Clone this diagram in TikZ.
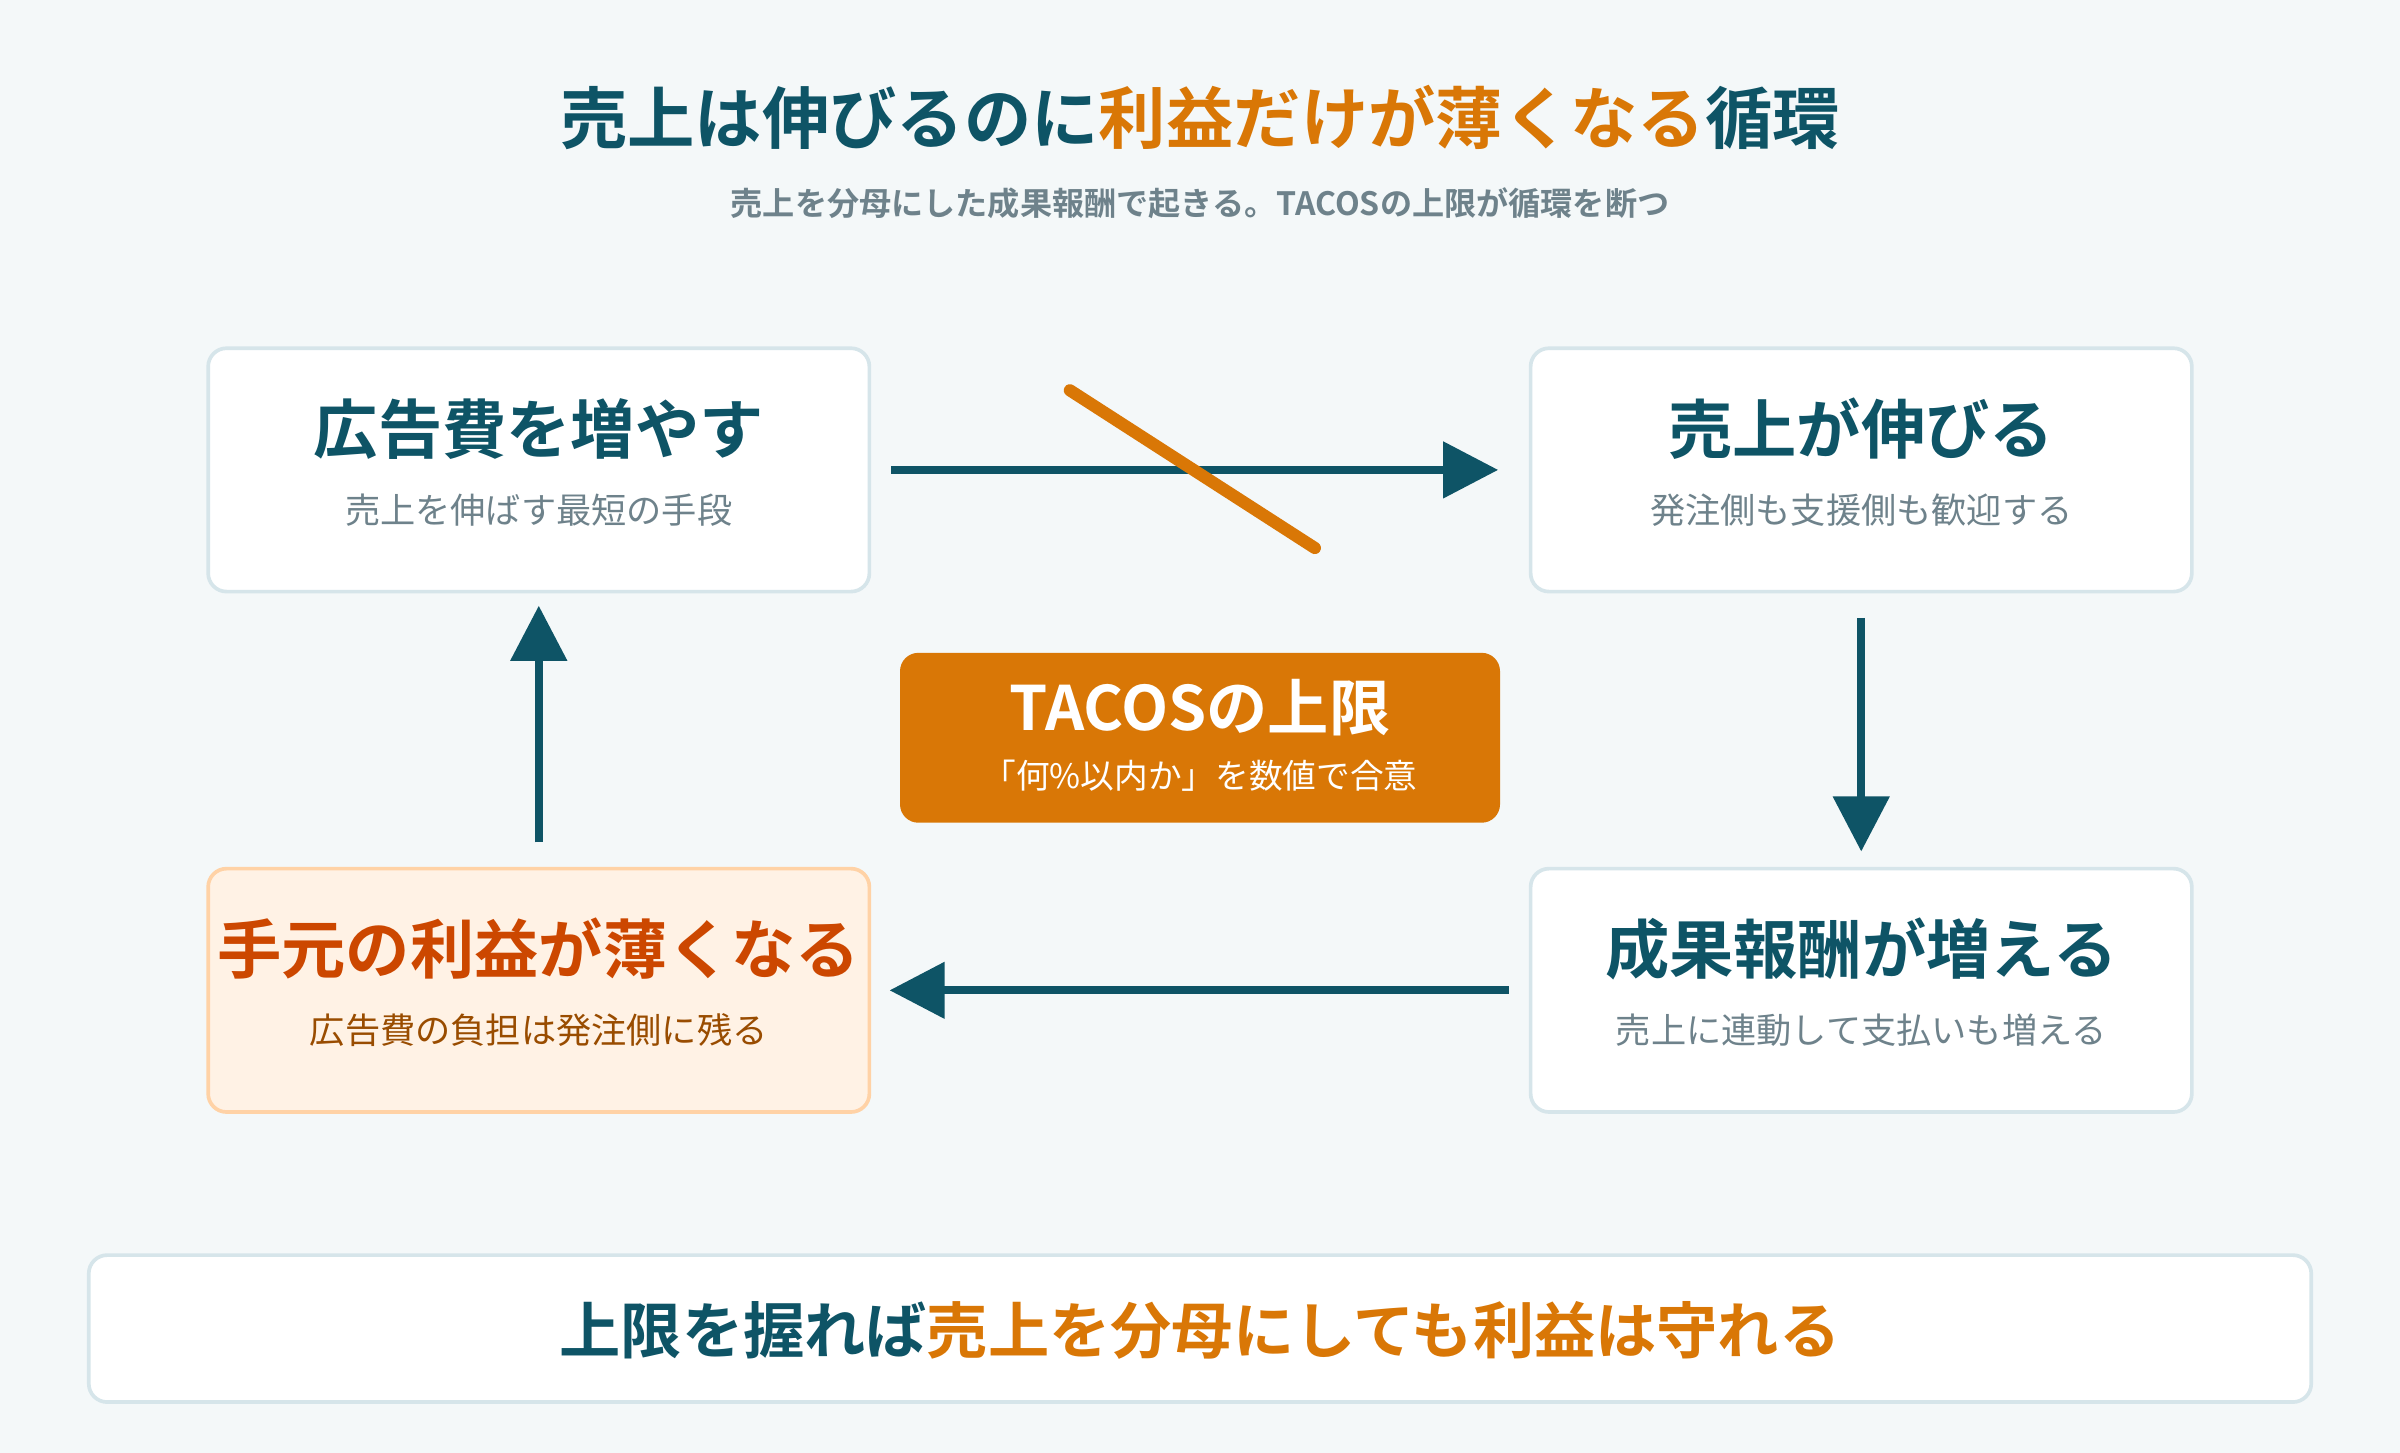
\documentclass[tikz,border=0pt]{standalone}
\usepackage{fontspec}
\setmainfont{Noto Sans CJK JP}[BoldFont={Noto Sans CJK JP Bold}]
\usetikzlibrary{arrows.meta}
\definecolor{teal}{HTML}{0E5466}
\definecolor{orng}{HTML}{D97706}
\definecolor{gry}{HTML}{6E828B}
\definecolor{bgc}{HTML}{F4F8F9}
\definecolor{edge}{HTML}{D6E5EA}
\tikzset{
  box/.style={draw=edge, line width=1.2pt, fill=white, rounded corners=6pt, minimum width=216pt, minimum height=79.5pt, inner sep=0pt},
  ttl/.style={font=\fontsize{21}{24}\selectfont\bfseries, text=teal},
  sub/.style={font=\fontsize{11.5}{14}\selectfont, text=gry},
  flow/.style={draw=teal, line width=2.6pt, -{Triangle[length=18pt,width=18pt]}}
}
\begin{document}
\begin{tikzpicture}[x=0.5pt,y=-0.5pt]
\fill[bgc] (0,0) rectangle (1568,949);
\useasboundingbox (0,0) rectangle (1568,949);
% title
\node[font=\fontsize{22}{26}\selectfont\bfseries, text=teal] (title) at (784,77) {売上は伸びるのに\textcolor{orng}{利益だけが薄くなる}循環};
\node[font=\fontsize{10.5}{13}\selectfont\bfseries, text=gry] (subtitle) at (784,133) {売上を分母にした成果報酬で起きる。TACOSの上限が循環を断つ};
% boxes
\node[box] (ad) at (352,307) {};
\node[box] (sales) at (1216,307) {};
\node[box] (fee) at (1216,647) {};
\node[box, fill=orange!10!white, draw=orange!35!white] (profit) at (352,647) {};
\node[ttl] (adT) at (352,280) {広告費を増やす};
\node[sub] (adS) at (352,333) {売上を伸ばす最短の手段};
\node[ttl] (salesT) at (1216,280) {売上が伸びる};
\node[sub] (salesS) at (1216,333) {発注側も支援側も歓迎する};
\node[ttl] (feeT) at (1216,620) {成果報酬が増える};
\node[sub] (feeS) at (1216,673) {売上に連動して支払いも増える};
\node[ttl, text=orange!70!red!80!black] (profitT) at (352,620) {手元の利益が薄くなる};
\node[sub, text=orange!60!black] (profitS) at (352,673) {広告費の負担は発注側に残る};
% arrows
\draw[flow, shorten <=6.5pt, shorten >=10pt] (ad) -- (sales);
\draw[flow, shorten <=8pt, shorten >=5pt] (sales) -- (fee);
\draw[flow, shorten <=6.5pt, shorten >=6pt] (fee) -- (profit);
\draw[flow, shorten <=8pt, shorten >=4pt] (profit) -- (ad);
\draw[orng, line width=4pt, line cap=round] (699,255) -- (859,358);
% cap
\node[fill=orng, rounded corners=6pt, minimum width=196pt, minimum height=55.5pt] (cap) at (784,482) {};
\node[font=\fontsize{20}{24}\selectfont\bfseries, text=white] (capT) at (784,462) {TACOSの上限};
\node[font=\fontsize{11}{13}\selectfont, text=white] (capS) at (784,507) {「何\%以内か」を数値で合意};
% bottom
\node[box, minimum width=726pt, minimum height=48pt] (note) at (784,868) {};
\node[font=\fontsize{20}{24}\selectfont\bfseries, text=teal] (noteT) at (784,869) {上限を握れば\textcolor{orng}{売上を分母にしても利益は守れる}};
\end{tikzpicture}
\end{document}
